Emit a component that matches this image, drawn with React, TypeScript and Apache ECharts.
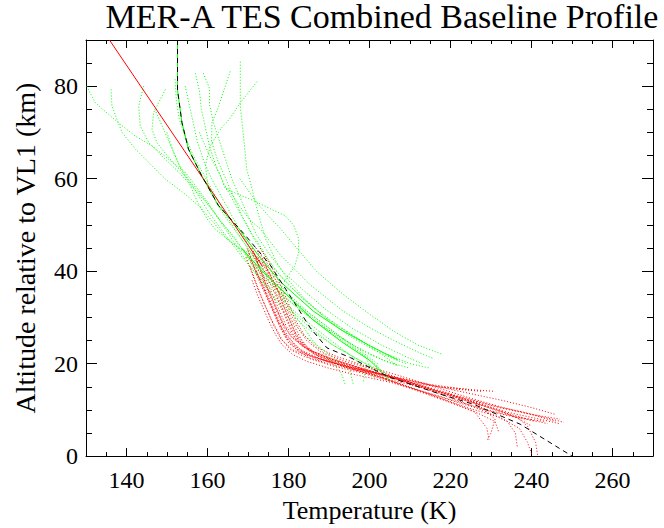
import React, { useEffect, useRef } from "react";
import * as echarts from "echarts";

// ---- axis ranges ----
const xRange = [130, 270];
const yRange = [0, 90];

// ---- green (upper) profiles: [T (K), z (km)] ----
const g1 = [[130.2,80],[132.3,76.4],[138,72.1],[142.2,69.2],[146.3,67.1],[150.4,64.2],[154.5,61.4],[157,58.5],[160,55],[163,51],[166,47],[169,43],[173,38],[178,33],[184,28],[191,24],[198,20.5],[204,18]];
const g2 = [[136.2,79.3],[136.4,75.7],[138.9,70],[142.2,66.4],[146.3,62.8],[149.6,59.9],[154,57],[158,54],[161.5,50.5],[164.8,47],[168.9,44.2],[172,40],[175,36],[179,31],[184,26],[190,22],[195,19],[196,15.5]];
const g3 = [[144.2,80],[143,75.7],[143.4,71.4],[145.5,67.8],[148.8,64.9],[152.9,61.4],[156.5,58],[160,54.5],[163,51],[166.5,47.5],[170,43],[174,38.5],[179.5,34],[186,29.5],[193,25.5],[200,22],[207,19.5]];
const g4 = [[149.6,79.3],[146.7,74.3],[146.3,70.7],[147.5,67.8],[150.5,64.5],[154,61],[157.5,57.5],[161,53.5],[164,50],[167.5,46],[171,42],[175.5,37.5],[181,33],[187.5,28.5],[194,24.5],[200,21],[203,18.5]];
const g5 = [[152,81.5],[152.3,77],[153,73],[154.5,69],[156.5,65],[159,61],[161.5,57],[164,53],[166.5,49.5],[169.5,45.5],[173,41],[177.5,36.5],[183,32],[189.5,27.5],[197,23.5],[204,20.5],[210,19]];
const g6 = [[154.5,80],[155.5,76],[156.5,72],[157.5,68],[159,64],[161,60],[163.5,56],[166,52],[168.5,48],[171.5,44],[175,40],[179.5,35.5],[185,31],[191,27],[197.5,23],[202,20],[201,16.5]];
const g7 = [[157,82.8],[158,79],[158.5,75],[159.5,71],[160.5,67],[162,63],[164,59],[166.5,55],[169,51],[171.5,47],[174.5,43],[178,39],[183,34.5],[189,30],[196,26],[203,22.5],[210,20],[215,19]];
const g8 = [[159,82.8],[160.5,79.5],[160.5,76],[161.5,72],[163,68],[164.5,64],[166,60],[168,56],[170,52],[172,48],[175,44],[178.5,40],[183.5,36],[189.5,31.5],[196,27.5],[203,24],[209,21.5],[213,20]];
const g9 = [[165.6,83.2],[164,79],[162.5,75],[161.1,72.1],[161,68],[162.5,64],[164.5,60],[166.5,56],[168.5,52],[171,48],[173,45.5],[176,41],[180,37],[185,33],[191,29],[197,25.5],[203,22],[207,19.5]];
const g10 = [[168.1,85.3],[168.1,80],[168.1,75.7],[168.8,70],[169.7,62],[171,57.8],[172.2,53.5],[174.3,47.1],[177,42],[180,38],[184,34],[189,30],[195,26],[201,23],[206,21],[209,20]];
const g11 = [[172.2,81],[170,78.5],[168.1,76.4],[165.5,73],[163.2,70.7],[160.7,67.1],[159.5,63],[160,59],[162,55],[165,51],[167.5,48],[170,45],[173,41],[177,37],[182,33],[188,29],[194,25],[199,21.5],[201,18]];
const g12 = [[158,70],[160.5,65],[163,61],[164.4,57.8],[168,56.5],[172,55],[175.5,53.5],[179.2,52],[181.3,49.9],[182.5,47],[182.5,44],[181.5,41],[179.5,38.5],[178,36],[180,32],[185,28],[191,24],[197,21],[201,19]];
const g13 = [[165,58],[168,54],[170.5,51],[173,49.2],[178,43.5],[185.4,37],[193.6,31.3],[200.2,27.7],[206,25],[212,22.5],[216,21]];
const g14 = [[168,60],[172,55],[175,52],[178,49.2],[182.1,44.9],[187,39.9],[193.6,34.9],[200.2,30.6],[206,27],[212,24],[218,22]];
const g15 = [[150,70],[151.5,66],[153.5,62],[155.5,59],[157.5,55],[159.9,51.3],[162,49],[164.8,47],[167,45.5],[170,44],[174,40],[178,35],[182,30],[186,25],[190,21],[193,18],[194,15.5]];
const g16 = [[147,75],[149,71],[151,67],[153,63],[155.5,59.5],[158,56],[160.5,52.5],[163,49.5],[166,46],[169,42.5],[172.5,39],[177,35],[182.5,30.5],[189,26],[195,22],[199,19],[198.5,16]];
const greenProfiles = [g1, g2, g3, g4, g5, g6, g7, g8, g9, g10, g11, g12, g13, g14, g15, g16];

// ---- red (lower) profiles: [T (K), z (km)] ----
const r1 = [[170,44.5],[171.5,41],[173,38],[174.5,35],[176,32],[177.5,29],[179.5,26],[183,23],[188,21],[195,19],[203,17],[212,15],[221,13],[230,11],[238,9.5],[245,8],[248,7.3]];
const r2 = [[171,44],[173,40.5],[174.5,37],[176,34],[177.5,31],[179,28],[181,25.5],[185,23],[191,21],[198,19],[206,17],[215,14.5],[224,12.5],[232,10.5],[240,9],[246,7.5]];
const r3 = [[172,45],[174,41],[176,37.5],[177.5,34],[179,31],[180.5,28],[182.5,25],[186,22.5],[192,20.5],[200,18.5],[208,16.5],[217,14],[225,12],[232,10],[237,8],[239,6.5],[241,3],[241.5,0.3]];
const r4 = [[169.5,43],[171,39.5],[172.5,36],[174,33],[175.5,30],[177,27.5],[178.5,25],[181,23],[185.5,21.5],[192,20],[199,18.5],[207,17],[215,15.5],[223,14.5],[231,14]];
const r5 = [[173,44],[175,40],[177,36.5],[178.5,33],[180,30],[181.5,27],[183.5,24.5],[187,22],[193,20],[201,18],[209,16],[218,13.5],[226,11.5],[234,9.5],[242,8],[247,7]];
const r6 = [[171.5,42],[173.5,38.5],[175,35.5],[176.5,32.5],[178,29.5],[179.5,26.5],[181.5,24],[184.5,22],[189.5,20.5],[196,19],[204,17.5],[212,15.5],[220,13.5],[227,11],[231,8],[230,5],[229,3.4]];
const r7 = [[174,43],[176,39.5],[178,36],[179.5,33],[181,30],[182.5,27.5],[184.5,25],[188,22.5],[194,20.5],[202,18.5],[210,16],[219,13.5],[228,11],[236,8.5],[240,6.5]];
const r8 = [[170.5,41],[172,37.5],[173.5,34],[175,31],[176.5,28],[178,25.5],[180.5,23],[184,21.5],[190,20],[197,18.5],[205,17],[213,15.5],[221,14.5],[228,14]];
const r9 = [[172.5,43],[174.5,39],[176.5,35.5],[178,32.5],[179.5,29.5],[181,26.5],[183,24],[186.5,22],[192.5,20],[200,18],[208,15.5],[216,13],[224,10.5],[232,8.5],[237,6],[239,3],[240,0.5]];
const r10 = [[171,45],[172.5,41.5],[174,38],[175.5,35],[177,32],[178.5,29],[180.5,26],[184,23.5],[189,21.5],[196,19.5],[204,17.5],[213,15],[222,12.5],[231,10],[239,8],[244,7]];
const r11 = [[173.5,42.5],[175.5,39],[177.5,35.5],[179,32],[180.5,29],[182,26],[184,23.5],[187.5,21.5],[193.5,19.5],[201,17.5],[209,15],[217,12.5],[225,10],[231,7.5],[232,5]];
const r12 = [[170,43.5],[171.8,40],[173.2,37],[174.8,34],[176.3,31],[177.8,28],[179.5,25.5],[182.5,23],[187,21],[193.5,19.5],[201,18],[209,16.5],[217,15],[225,13.5],[233,12],[240,10.5],[246,9]];
const r13 = [[172,40],[174,36.5],[175.5,33.5],[177,30.5],[178.5,27.5],[180,25],[182,23],[185.5,21],[191,19.5],[198,18],[206,16],[215,13.5],[224,11],[233,9],[241,7.5]];
const r14 = [[174.5,41],[176.5,37.5],[178.5,34],[180,31],[181.5,28],[183,25.5],[185,23],[188.5,21],[195,19],[203,17],[211,14.5],[219,12],[226,9.5],[229,6],[229.5,3.5]];
const r15 = [[171,38],[172.5,34.5],[174,31.5],[175.5,28.5],[177,26],[178.5,24],[181,22],[184.5,20.5],[190,19],[197,17.5],[205,16],[213,14],[221,12],[229,10],[236,8.5],[243,7.5]];
const r16 = [[173,45],[175.5,41.5],[177.5,38],[179,35],[180.5,32],[182,29],[184,26],[187,23.5],[192,21.5],[199,19.5],[207,17.5],[216,15],[225,12.5],[233,10.5],[240,9],[247,8]];
const r17 = [[169.8,44.9],[171,42],[172.5,39],[174,36],[175.5,33],[177,30],[178.5,27],[180,24.5],[183,22.5],[188,21],[194,19.5],[201,18],[209,16.5],[217,15],[224,14.5]];
const r18 = [[171.5,44],[173,40.5],[175,37],[176.5,34],[178,31],[179.5,28],[181.5,25.5],[185,23],[190.5,21],[197.5,19],[205.5,17],[214,14.5],[222,12],[229,9.5],[234,7.5],[236,5],[236.5,2]];
const redProfiles = [r1, r2, r3, r4, r5, r6, r7, r8, r9, r10, r11, r12, r13, r14, r15, r16, r17, r18];

// ---- mean / fit lines ----
const greenMeanA = [[152.6,90],[152.6,79.2],[153.7,72.1],[155.3,66.4],[158.6,60.6],[162.7,54.2],[167.7,49.2],[172.5,43.5],[178,37.7],[186.2,31.3],[193,27.3],[200.2,23.8],[207,20.8]];
const greenMeanB = [[168.5,44.9],[173.5,40],[179.6,34.9],[186,29.5],[193,24.8],[200.2,20.6],[205.1,16.3]];
const blackBaseline = [[152.6,90],[152.6,79.2],[153.7,72.1],[155.3,66.4],[158.6,60.6],[162.7,54.2],[169.3,47.8],[175.5,41.3],[181.3,33.4],[185.4,27.7],[189.5,23.4],[195.3,21.3],[200.2,19.1],[205.1,17],[217.5,13.4],[225.7,11.2],[237.2,6.9],[250,0]];
const redFit = [[135.8,90],[173.6,41]];

const TITLE = "MER-A TES Combined Baseline Profile";
const FONT = "Liberation Serif";

const joinProfiles = (profiles: number[][][]) => {
  const out: any[] = [];
  profiles.forEach((p) => {
    p.forEach((pt) => out.push(pt));
    out.push(["-", "-"]);
  });
  return out;
};

function buildOption() {
  const dotted = (color: string) => ({ color, width: 1, type: [1, 2] as number[] });
  const base = { type: "line", showSymbol: false, symbol: "none", silent: true, connectNulls: false, xAxisIndex: 0, yAxisIndex: 0 };
  const series: any[] = [
    { ...base, data: joinProfiles(greenProfiles), lineStyle: dotted("#00ff00"), z: 2 },
    { ...base, data: joinProfiles(redProfiles), lineStyle: dotted("#ff0000"), z: 3 },
    { ...base, data: joinProfiles([greenMeanA, greenMeanB]), lineStyle: { color: "#00ff00", width: 1 }, z: 4 },
    { ...base, data: redFit, lineStyle: { color: "#ff0000", width: 1 }, z: 5 },
    { ...base, data: blackBaseline, lineStyle: { color: "#000000", width: 1, type: [5, 4] }, z: 6 },
  ];

  const lineBlack = { color: "#000", width: 1 };
  const xMajor = (pos: any, labels: boolean) => ({
    type: "value", position: pos, min: xRange[0], max: xRange[1], splitNumber: 7,
    name: labels ? "Temperature (K)" : "",
    nameLocation: "middle", nameGap: 39,
    nameTextStyle: { fontFamily: FONT, fontSize: 26, color: "#000" },
    axisLine: { show: true, onZero: false, lineStyle: lineBlack },
    axisTick: { show: true, inside: true, length: 8, lineStyle: lineBlack },
    axisLabel: labels ? { show: true, showMinLabel: false, showMaxLabel: false, fontFamily: FONT, fontSize: 24, color: "#000", margin: 12 } : { show: false },
    splitLine: { show: false },
  });
  const xMinor = (pos: any) => ({
    type: "value", position: pos, min: xRange[0], max: xRange[1], interval: 5,
    axisLine: { show: false, onZero: false },
    axisTick: { show: true, inside: true, length: 4, lineStyle: lineBlack },
    axisLabel: { show: false }, splitLine: { show: false },
  });
  const yMajor = (pos: any, labels: boolean) => ({
    type: "value", position: pos, min: yRange[0], max: yRange[1], interval: 20,
    name: labels ? "Altitude relative to VL1 (km)" : "",
    nameLocation: "middle", nameGap: 47,
    nameTextStyle: { fontFamily: FONT, fontSize: 28, color: "#000" },
    axisLine: { show: true, onZero: false, lineStyle: lineBlack },
    axisTick: { show: true, inside: true, length: 11, lineStyle: lineBlack },
    axisLabel: labels ? { show: true, showMaxLabel: false, fontFamily: FONT, fontSize: 24, color: "#000", margin: 8 } : { show: false },
    splitLine: { show: false },
  });
  const yMinor = (pos: any) => ({
    type: "value", position: pos, min: yRange[0], max: yRange[1], interval: 5,
    axisLine: { show: false, onZero: false },
    axisTick: { show: true, inside: true, length: 6, lineStyle: lineBlack },
    axisLabel: { show: false }, splitLine: { show: false },
  });
  return {
    animation: false,
    backgroundColor: "#fff",
    grid: { left: 86, right: 11, top: 40, bottom: 69, containLabel: false },
    xAxis: [xMajor("bottom", true), xMinor("bottom"), xMajor("top", false), xMinor("top")],
    yAxis: [yMajor("left", true), yMinor("left"), yMajor("right", false), yMinor("right")],
    series,
  };
}

export default function App() {
  const ref = useRef<HTMLDivElement>(null);
  useEffect(() => {
    if (!ref.current) return;
    const chart = echarts.init(ref.current, null, { renderer: "svg" });
    chart.setOption(buildOption());
    return () => chart.dispose();
  }, []);
  return (
    <div>
      <div ref={ref} style={{ position: "absolute", left: 0, top: 0, width: 664, height: 528, background: "#fff" }} />
      <div
        style={{
          position: "absolute", left: 382, top: -1, transform: "translateX(-50%)",
          fontFamily: FONT, fontSize: 34, lineHeight: "36px", color: "#000", whiteSpace: "nowrap",
        }}
      >
        {TITLE}
      </div>
    </div>
  );
}
